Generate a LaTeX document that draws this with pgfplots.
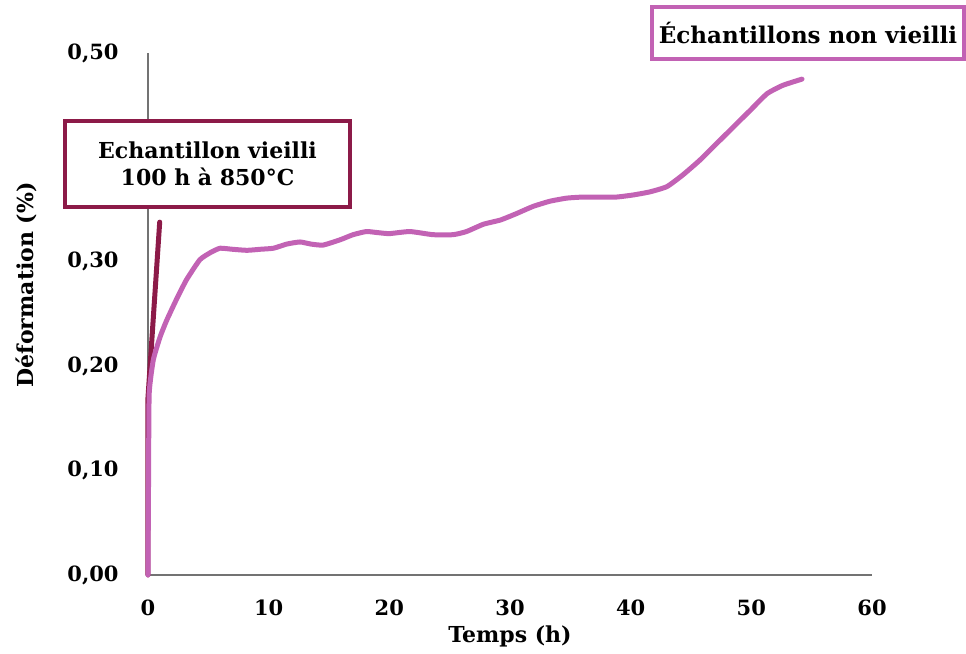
\documentclass[border=0pt]{standalone}
\usepackage{fontspec}
\setmainfont{DejaVu Serif}
\usepackage{pgfplots}
\pgfplotsset{compat=1.18}
\definecolor{nonvieilli}{RGB}{194,98,180}
\definecolor{vieilli}{RGB}{140,26,72}
\definecolor{axisgray}{RGB}{115,115,115}

\begin{document}
\begin{tikzpicture}
\begin{axis}[
  at={(0pt,0pt)}, anchor=south west,
  scale only axis, width=362pt, height=261pt,
  xmin=0, xmax=60, ymin=0, ymax=0.5,
  axis lines*=left,
  axis line style={axisgray, line width=1pt, -},
  xtick={0,10,20,30,40,50,60},
  % 0,40 lies under the annotation box
  ytick={0,0.1,0.2,0.3,0.5},
  major tick length=0pt,
  /pgf/number format/assume math mode=true,
  tick label style={font=\bfseries\fontsize{10.5}{12}\selectfont},
  xticklabel style={anchor=center, yshift=-16.5pt},
  yticklabel style={anchor=east, inner sep=0pt, xshift=-14.5pt,
    /pgf/number format/.cd, fixed, fixed zerofill, precision=2, use comma},
  xlabel={Temps (h)},
  ylabel={Déformation (\%)},
  every axis x label/.style={at={(rel axis cs:0.5,-0.1169)}, anchor=center,
    font=\bfseries\fontsize{11}{13}\selectfont},
  every axis y label/.style={at={(rel axis cs:-0.1685,0.556)}, anchor=center, rotate=90,
    font=\bfseries\fontsize{11}{13}\selectfont},
  clip=false,
]
% echantillon vieilli 100 h a 850 C
\addplot[vieilli, line width=2.5pt, line cap=round] coordinates {
  (0,0) (0,0.17) (0.97,0.338)
};
% echantillons non vieillis
\addplot[nonvieilli, line width=2.5pt, line join=round, line cap=round, smooth, tension=0.3] coordinates {
  (0,0) (0.05,0.10) (0.1,0.174) (0.44,0.206) (1.0,0.228) (1.55,0.244)
  (2.4,0.265) (3.2,0.283) (4.3,0.302) (5.2,0.309) (5.97,0.313) (7,0.312)
  (8.2,0.311) (9.3,0.312) (10.4,0.313) (11.5,0.317) (12.6,0.319) (13.5,0.317)
  (14.5,0.316) (15.9,0.321) (17,0.326) (18.1,0.329) (19,0.328) (20.0,0.327)
  (21.7,0.329) (23.6,0.326) (25.3,0.326) (26.4,0.329) (27.8,0.336) (29.2,0.340)
  (30.5,0.346) (31.9,0.353) (33.3,0.358) (34.7,0.361) (36,0.362) (37.4,0.362)
  (38.8,0.362) (40.2,0.364) (41.6,0.367) (43.0,0.372) (44.3,0.383) (45.7,0.397)
  (47.1,0.413) (48.5,0.429) (49.9,0.445) (51.3,0.461) (52.6,0.469) (54.2,0.475)
};
\node[draw=vieilli, line width=2pt, fill=white, align=center,
  minimum width=142.5pt, minimum height=43pt, inner sep=2pt,
  font=\bfseries\fontsize{11}{13.5}\selectfont]
  at (axis cs:4.93,0.394) {Echantillon vieilli\\100 h à 850°C};
\node[draw=nonvieilli, line width=2pt, fill=white,
  minimum width=156pt, minimum height=26pt, inner sep=2pt,
  font=\bfseries\fontsize{11.5}{13}\selectfont]
  at (axis cs:54.7,0.519) {Échantillons non vieilli};
\end{axis}
\pgfresetboundingbox
\useasboundingbox (-74pt,-39.5pt) rectangle (409pt,287.5pt);
\end{tikzpicture}
\end{document}
